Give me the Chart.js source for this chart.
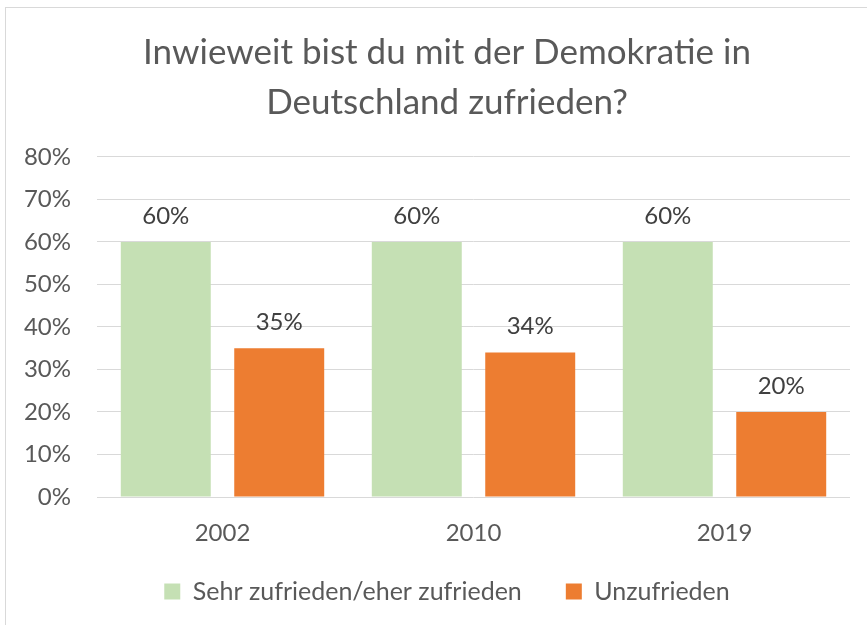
<!DOCTYPE html>
<html>
<head>
<meta charset="utf-8">
<script src="https://cdn.jsdelivr.net/npm/chart.js@4/dist/chart.umd.min.js"></script>
<style>
  html, body { margin: 0; padding: 0; background: #ffffff; }
  #wrap { width: 867px; height: 625px; position: relative; }
</style>
</head>
<body>
<div id="wrap"><canvas id="c" width="867" height="625"></canvas></div>
<script>
const titleLines = ["Inwieweit bist du mit der Demokratie in", "Deutschland zufrieden?"];
const categories = ["2002", "2010", "2019"];
const seriesNames = ["Sehr zufrieden/eher zufrieden", "Unzufrieden"];
const zufrieden = [60, 60, 60];
const unzufrieden = [35, 34, 20];
const yTicks = [0, 10, 20, 30, 40, 50, 60, 70, 80];

const FONT = "Lato, 'Open Sans', sans-serif";

const framePlugin = {
  id: 'frame',
  beforeDraw(chart) {
    const ctx = chart.ctx;
    ctx.save();
    ctx.fillStyle = '#ffffff';
    ctx.fillRect(0, 0, chart.width, chart.height);
    ctx.strokeStyle = '#d9d9d9';
    ctx.lineWidth = 1;
    ctx.strokeRect(5.5, 7.5, chart.width + 20, chart.height + 20);
    ctx.restore();
    // legend sits a little closer to the axis labels than the layout gives
    if (chart.legend && chart.scales.x) {
      const h = chart.legend.height;
      chart.legend.top = chart.scales.x.bottom - 11;
      chart.legend.bottom = chart.legend.top + h;
    }
  }
};

// y tick labels: drawn from the y scale so they may extend past the axis box
const yLabels = {
  id: 'yLabels',
  afterDraw(chart) {
    const ctx = chart.ctx;
    const y = chart.scales.y;
    ctx.save();
    ctx.font = "24px " + FONT;
    ctx.fillStyle = '#595959';
    ctx.textAlign = 'right';
    ctx.textBaseline = 'middle';
    yTicks.forEach(v => {
      ctx.fillText(v + '%', chart.chartArea.left - 26, y.getPixelForValue(v));
    });
    ctx.restore();
  }
};

const valueLabels = {
  id: 'valueLabels',
  afterDatasetsDraw(chart) {
    const ctx = chart.ctx;
    ctx.save();
    ctx.font = "24px " + FONT;
    ctx.fillStyle = '#404040';
    ctx.textAlign = 'center';
    ctx.textBaseline = 'middle';
    chart.data.datasets.forEach((ds, di) => {
      const meta = chart.getDatasetMeta(di);
      meta.data.forEach((el, i) => {
        ctx.fillText(ds.data[i] + '%', el.x, el.y - 26);
      });
    });
    ctx.restore();
  }
};

new Chart(document.getElementById('c'), {
  type: 'bar',
  data: {
    labels: categories,
    datasets: [
      { label: seriesNames[0], data: zufrieden, backgroundColor: '#C5E0B4', borderWidth: 0 },
      { label: seriesNames[1], data: unzufrieden, backgroundColor: '#ED7D31', borderWidth: 0 }
    ]
  },
  options: {
    responsive: false,
    animation: false,
    devicePixelRatio: 1,
    layout: { padding: { left: 44, right: 17, top: 0, bottom: 0 } },
    datasets: { bar: { categoryPercentage: 0.904, barPercentage: 0.793 } },
    plugins: {
      title: {
        display: true,
        text: titleLines,
        color: '#595959',
        font: { family: FONT, size: 35, weight: 'normal', lineHeight: 1.414 },
        padding: { top: 28, bottom: 30 }
      },
      legend: {
        display: true,
        position: 'bottom',
        labels: {
          boxWidth: 16, boxHeight: 16,
          color: '#595959',
          font: { family: FONT, size: 25 },
          padding: 44
        }
      },
      tooltip: { enabled: false }
    },
    scales: {
      x: {
        grid: { display: false, drawTicks: false },
        border: { display: false },
        afterFit(scale) { scale.height = 49; },
        ticks: { color: '#595959', font: { family: FONT, size: 24 }, padding: 22 }
      },
      y: {
        min: 0, max: 80,
        afterBuildTicks(scale) { scale.ticks = yTicks.map(v => ({ value: v })); },
        afterFit(scale) { scale.width = 53; },
        grid: { color: '#d9d9d9', lineWidth: 1, drawTicks: false },
        border: { display: false },
        ticks: { display: false }
      }
    }
  },
  plugins: [framePlugin, yLabels, valueLabels]
});
</script>
</body>
</html>
